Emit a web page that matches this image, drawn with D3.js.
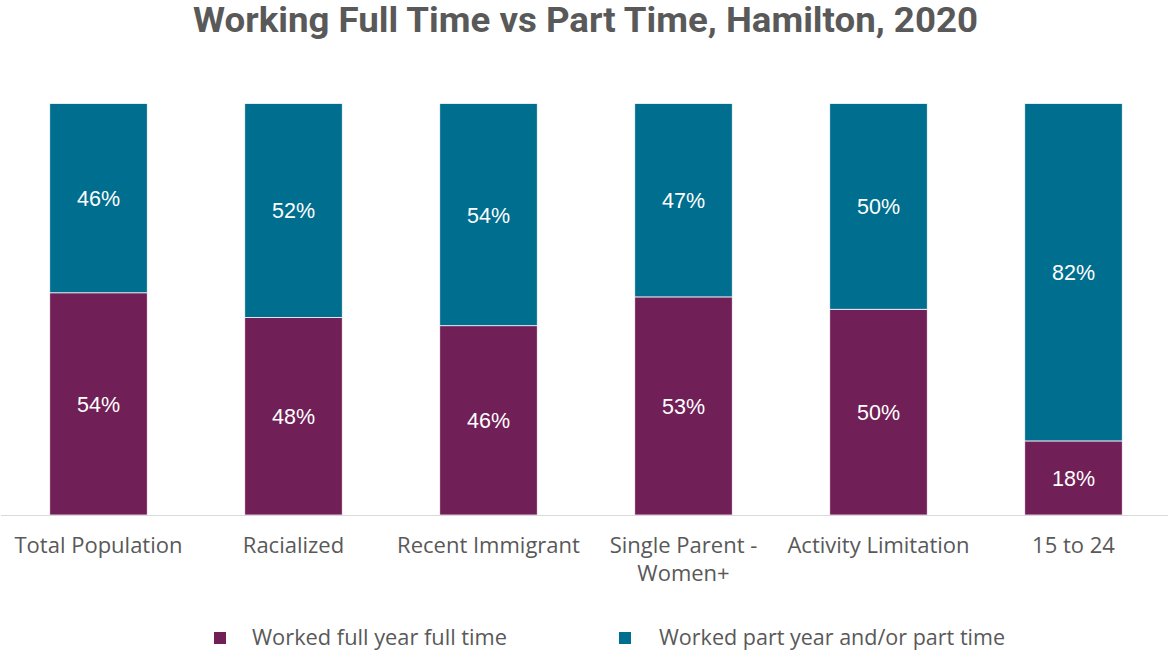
<!DOCTYPE html>
<html><head><meta charset="utf-8">
<script src="https://cdn.jsdelivr.net/npm/d3@7"></script>
<style>body{margin:0;background:#fff}svg{display:block}</style>
</head><body>
<svg id="chart" width="1168" height="650"></svg>
<script>
const categories = [["Total Population"],["Racialized"],["Recent Immigrant"],["Single Parent -","Women+"],["Activity Limitation"],["15 to 24"]];
const fullTime = [54,48,46,53,50,18];
const partTime = [46,52,54,47,50,82];
const seriesNames = ["Worked full year full time","Worked part year and/or part time"];
const colors = ["#711F57","#006E8E"];

const svg = d3.select("#chart");
const x = d3.scaleBand().domain(d3.range(categories.length)).range([1,1171]).paddingInner(0.5).paddingOuter(0.25);
const y = d3.scaleLinear().domain([0,100]).range([515,103.5]);

svg.append("text").attr("x",585.5).attr("y",32).attr("text-anchor","middle")
  .attr("textLength",785).attr("lengthAdjust","spacingAndGlyphs")
  .style("font-family","Roboto").style("font-weight","bold").style("font-size","35px").attr("fill","#595959")
  .text("Working Full Time vs Part Time, Hamilton, 2020");

const data = categories.map((c,i)=>({i, f: fullTime[i], p: partTime[i]}));
const stack = d3.stack().keys(["f","p"])(data);

const g = svg.append("g");
stack.forEach((layer,k)=>{
  g.selectAll(null).data(layer).enter().append("rect")
    .attr("x",d=>x(d.data.i)).attr("width",x.bandwidth())
    .attr("y",d=>y(d[1])).attr("height",d=>y(d[0])-y(d[1]))
    .attr("fill",colors[k]).attr("stroke","#fff").attr("stroke-width",0.75);
  g.selectAll(null).data(layer).enter().append("text")
    .attr("x",d=>x(d.data.i)+x.bandwidth()/2).attr("y",d=>(y(d[0])+y(d[1]))/2+8)
    .attr("text-anchor","middle").attr("fill","#fff")
    .style("font-family","Liberation Sans").style("font-size","21.5px")
    .text(d=>(d[1]-d[0])+"%");
});

svg.append("line").attr("x1",1).attr("x2",1168).attr("y1",515.5).attr("y2",515.5).attr("stroke","#d9d9d9").attr("stroke-width",1.2);

const xa = svg.append("g");
categories.forEach((c,i)=>{
  const t = xa.append("text").attr("x",x(i)+x.bandwidth()/2).attr("y",553).attr("text-anchor","middle")
    .attr("fill","#595959").style("font-family","Open Sans").style("font-size","22px");
  c.forEach((line,j)=>t.append("tspan").attr("x",x(i)+x.bandwidth()/2).attr("dy",j?28:0).text(line));
});

const legX = [214,619];
const legTextX = [252,659];
const legLen = [255,346];
seriesNames.forEach((n,k)=>{
  svg.append("rect").attr("x",legX[k]).attr("y",632).attr("width",12).attr("height",12).attr("fill",colors[k]);
  svg.append("text").attr("x",legTextX[k]).attr("y",645).attr("fill","#595959")
    .attr("textLength",legLen[k]).attr("lengthAdjust","spacingAndGlyphs")
    .style("font-family","Open Sans").style("font-size","21.5px").text(n);
});
</script>
</body></html>
